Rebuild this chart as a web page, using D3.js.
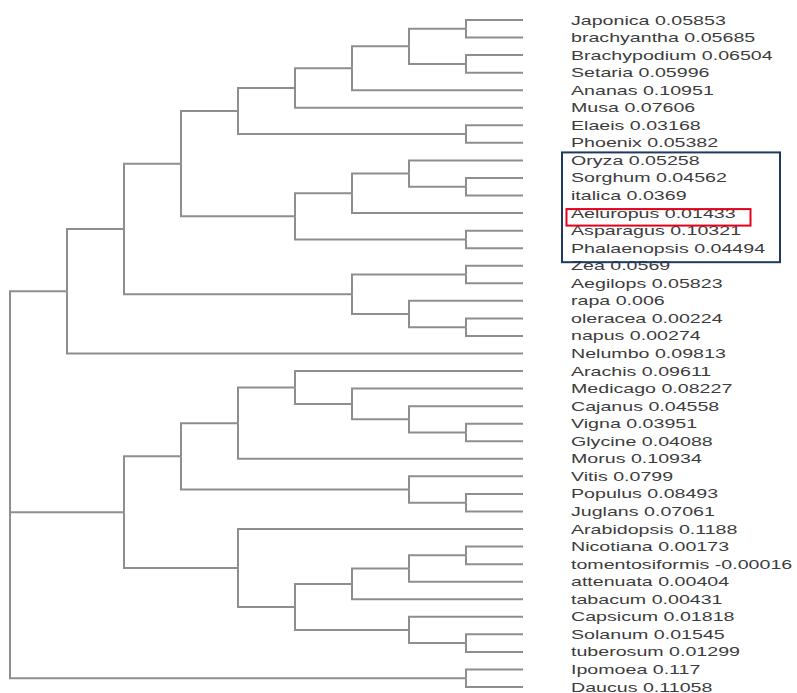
<!DOCTYPE html>
<html>
<head>
<meta charset="utf-8">
<script src="https://cdn.jsdelivr.net/npm/d3@7"></script>
<style>
  body { margin: 0; background: #fff; }
  svg { display: block; }
</style>
</head>
<body>
<svg id="chart" width="797" height="693"></svg>
<script>
// tree topology (leaf names only), values shown next to each leaf
const topology = "(((((((((Japonica,brachyantha),(Brachypodium,Setaria)),Ananas),Musa),(Elaeis,Phoenix))," +
  "(((Oryza,(Sorghum,italica)),Aeluropus),(Asparagus,Phalaenopsis)))," +
  "((Zea,Aegilops),(rapa,(oleracea,napus)))),Nelumbo)," +
  "((((Arachis,(Medicago,(Cajanus,(Vigna,Glycine)))),Morus),(Vitis,(Populus,Juglans)))," +
  "(Arabidopsis,((((Nicotiana,tomentosiformis),attenuata),tabacum),(Capsicum,(Solanum,tuberosum)))))," +
  "(Ipomoea,Daucus))";

const leafNames = ["Japonica", "brachyantha", "Brachypodium", "Setaria", "Ananas", "Musa", "Elaeis", "Phoenix",
  "Oryza", "Sorghum", "italica", "Aeluropus", "Asparagus", "Phalaenopsis", "Zea", "Aegilops", "rapa",
  "oleracea", "napus", "Nelumbo", "Arachis", "Medicago", "Cajanus", "Vigna", "Glycine", "Morus", "Vitis",
  "Populus", "Juglans", "Arabidopsis", "Nicotiana", "tomentosiformis", "attenuata", "tabacum", "Capsicum",
  "Solanum", "tuberosum", "Ipomoea", "Daucus"];

const leafValues = [0.05853, 0.05685, 0.06504, 0.05996, 0.10951, 0.07606, 0.03168, 0.05382,
  0.05258, 0.04562, 0.0369, 0.01433, 0.10321, 0.04494, 0.0569, 0.05823, 0.006,
  0.00224, 0.00274, 0.09813, 0.09611, 0.08227, 0.04558, 0.03951, 0.04088, 0.10934, 0.0799,
  0.08493, 0.07061, 0.1188, 0.00173, -0.00016, 0.00404, 0.00431, 0.01818,
  0.01545, 0.01299, 0.117, 0.11058];

// highlighted groups
const blueGroup = ["Oryza", "Phalaenopsis"];
const redGroup = ["Aeluropus"];

function parseNewick(s) {
    let i = 0;
    function node() {
        if (s[i] === "(") {
            i++;
            const children = [node()];
            while (s[i] === ",") { i++; children.push(node()); }
            i++; // ')'
            return { children };
        }
        let name = "";
        while (i < s.length && !",()".includes(s[i])) name += s[i++];
        return { name };
    }
    return node();
}

const valueByName = new Map(leafNames.map((n, k) => [n, leafValues[k]]));

const svg = d3.select("#chart");
const root = d3.hierarchy(parseNewick(topology));

const y = d3.scalePoint().domain(leafNames).range([20, 687]);
const x = d3.scaleLinear().domain([0, root.height]).range([10, 523]);

root.eachAfter(d => {
    d.py = d.children ? d3.mean(d.children, c => c.py) : y(d.data.name);
    d.px = x(root.height - d.height);
});

svg.append("g")
    .attr("fill", "none")
    .attr("stroke", "#8e8e8e")
    .attr("stroke-width", 2)
  .selectAll("path")
  .data(root.descendants().slice(1))
  .join("path")
    .attr("d", d => `M${d.parent.px},${d.parent.py}V${d.py}H${d.px}`);

svg.append("g")
    .attr("font-family", "'Liberation Sans', Arial, sans-serif")
    .attr("font-size", 12.5)
    .attr("fill", "#3c3c3c")
  .selectAll("text")
  .data(root.leaves())
  .join("text")
    .attr("transform", d => `translate(571,${d.py}) scale(1.57,1)`)
    .attr("dy", "0.36em")
    .text(d => `${d.data.name} ${valueByName.get(d.data.name)}`);

svg.append("rect")
    .attr("x", 562)
    .attr("y", y(blueGroup[0]) - 8)
    .attr("width", 218)
    .attr("height", y(blueGroup[1]) - y(blueGroup[0]) + 22)
    .attr("fill", "none")
    .attr("stroke", "#1f3a60")
    .attr("stroke-width", 2);

svg.append("rect")
    .attr("x", 566.5)
    .attr("y", y(redGroup[0]) - 4)
    .attr("width", 184)
    .attr("height", 16.5)
    .attr("fill", "none")
    .attr("stroke", "#e3001b")
    .attr("stroke-width", 2);
</script>
</body>
</html>
